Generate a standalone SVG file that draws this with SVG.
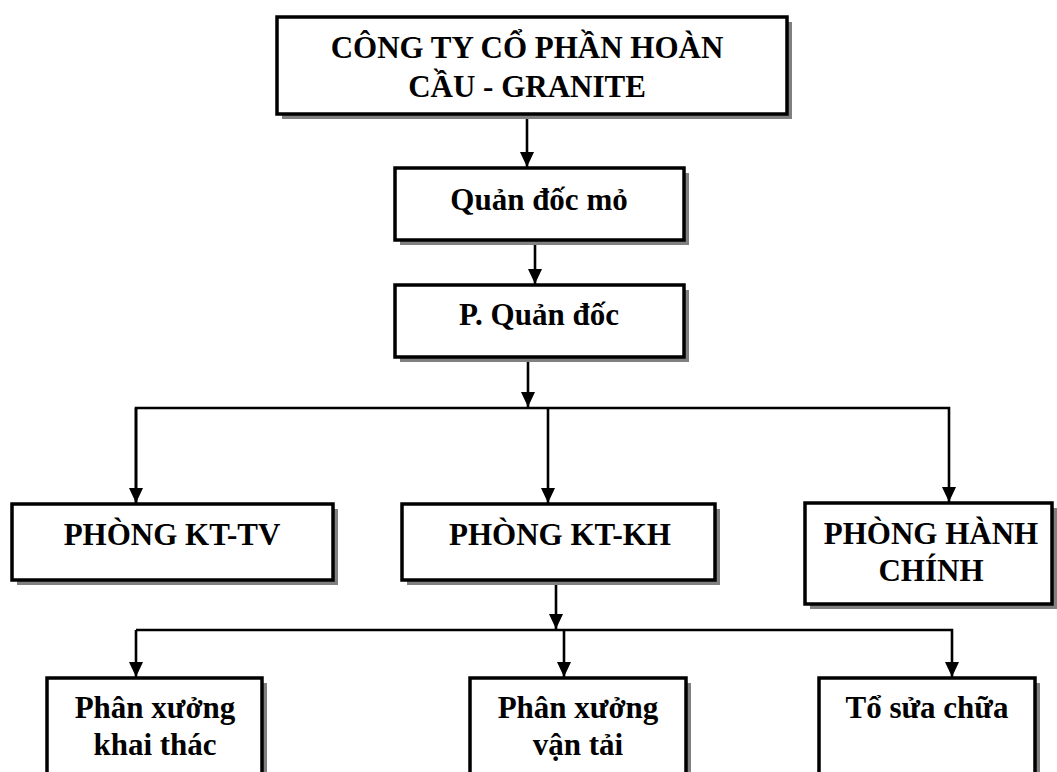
<svg xmlns="http://www.w3.org/2000/svg" width="1057" height="772" viewBox="0 0 1057 772">
<style>
.shadow{fill:#808080;stroke:none}
.box{fill:#ffffff;stroke:#000000;stroke-width:3.5}
.t{font-family:"Liberation Serif","Times New Roman",serif;font-weight:bold;font-size:31px;fill:#000000;text-anchor:middle}
.c{fill:none;stroke:#000000;stroke-width:2.6}
</style>
<defs>
<marker id="arr" viewBox="0 0 15 14" markerWidth="15" markerHeight="14" refX="15" refY="7" orient="auto" markerUnits="userSpaceOnUse">
<path d="M0,0 L15,7 L0,14 z" fill="#000000"/>
</marker>
</defs>
<rect width="1057" height="772" fill="#ffffff"/>
<g id="connectors">
<line class="c" x1="527" y1="116" x2="527" y2="167" marker-end="url(#arr)"/>
<line class="c" x1="535" y1="241" x2="535" y2="284" marker-end="url(#arr)"/>
<line class="c" x1="528" y1="359" x2="528" y2="407" marker-end="url(#arr)"/>
<polyline class="c" points="136,503 136,408 949,408 949,502" marker-end="url(#arr)"/>
<line class="c" x1="136" y1="408" x2="136" y2="503" marker-end="url(#arr)"/>
<line class="c" x1="548" y1="408" x2="548" y2="503" marker-end="url(#arr)"/>
<line class="c" x1="556" y1="581" x2="556" y2="629" marker-end="url(#arr)"/>
<polyline class="c" points="136,630 952,630 952,677" marker-end="url(#arr)"/>
<line class="c" x1="136" y1="630" x2="136" y2="677" marker-end="url(#arr)"/>
<line class="c" x1="564" y1="630" x2="564" y2="677" marker-end="url(#arr)"/>
</g>
<g id="n-congty">
<rect class="shadow" x="282" y="22" width="510" height="97"/>
<rect class="box" x="277" y="17" width="510" height="97"/>
<text class="t" x="527" y="58">CÔNG TY CỔ PHẦN HOÀN</text>
<text class="t" x="527" y="97">CẦU - GRANITE</text>
</g>
<g id="n-quandocmo">
<rect class="shadow" x="400" y="173" width="289" height="72"/>
<rect class="box" x="395" y="168" width="289" height="72"/>
<text class="t" x="539" y="210">Quản đốc mỏ</text>
</g>
<g id="n-pquandoc">
<rect class="shadow" x="400" y="290" width="289" height="72"/>
<rect class="box" x="395" y="285" width="289" height="72"/>
<text class="t" x="539" y="325">P. Quản đốc</text>
</g>
<g id="n-kttv">
<rect class="shadow" x="17" y="509" width="321" height="76"/>
<rect class="box" x="12" y="504" width="321" height="76"/>
<text class="t" x="172" y="545">PHÒNG KT-TV</text>
</g>
<g id="n-ktkh">
<rect class="shadow" x="407" y="509" width="313" height="76"/>
<rect class="box" x="402" y="504" width="313" height="76"/>
<text class="t" x="560" y="545">PHÒNG KT-KH</text>
</g>
<g id="n-hanhchinh">
<rect class="shadow" x="810" y="508" width="247" height="101"/>
<rect class="box" x="805" y="503" width="247" height="101"/>
<text class="t" x="931" y="544">PHÒNG HÀNH</text>
<text class="t" x="931" y="581">CHÍNH</text>
</g>
<g id="n-khaithac">
<rect class="shadow" x="52" y="683" width="215" height="110"/>
<rect class="box" x="47" y="678" width="215" height="110"/>
<text class="t" x="155" y="718">Phân xưởng</text>
<text class="t" x="155" y="755">khai thác</text>
</g>
<g id="n-vantai">
<rect class="shadow" x="475" y="683" width="216" height="110"/>
<rect class="box" x="470" y="678" width="216" height="110"/>
<text class="t" x="578" y="718">Phân xưởng</text>
<text class="t" x="578" y="755">vận tải</text>
</g>
<g id="n-tosuachua">
<rect class="shadow" x="824" y="683" width="216" height="110"/>
<rect class="box" x="819" y="678" width="216" height="110"/>
<text class="t" x="927" y="718">Tổ sửa chữa</text>
</g>
</svg>
